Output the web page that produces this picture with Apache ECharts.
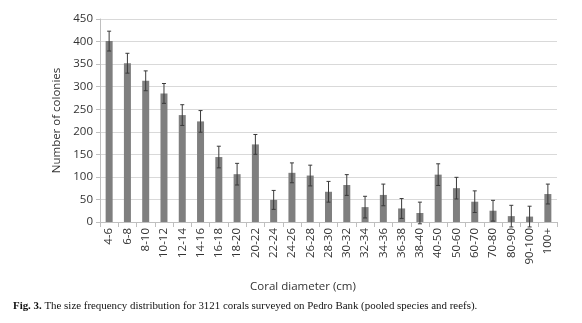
<!DOCTYPE html>
<html>
<head>
<meta charset="utf-8">
<style>
  html, body { margin: 0; padding: 0; background: #fff; }
  #chart { width: 582px; height: 323px; }
</style>
<script src="https://cdn.jsdelivr.net/npm/echarts@6/dist/echarts.min.js"></script>
</head>
<body>
<div id="chart"></div>
<script>
// size classes (cm)
var categories = ['4-6', '6-8', '8-10', '10-12', '12-14', '14-16', '16-18', '18-20', '20-22', '22-24',
    '24-26', '26-28', '28-30', '30-32', '32-34', '34-36', '36-38', '38-40', '40-50', '50-60',
    '60-70', '70-80', '80-90', '90-100', '100+']
// number of colonies
var counts = [401, 352, 313, 285, 237, 223, 144, 106, 172, 49,
    109, 103, 67, 82, 33, 60, 30, 20, 105, 75,
    45, 25, 13, 12, 62]
// error bar half-widths
var errors = [22, 22, 22, 22, 23, 24, 24, 24, 22, 21,
    22, 23, 23, 23, 24, 24, 22, 24, 24, 24,
    24, 23, 24, 23, 22]
var yTicks = [0, 50, 100, 150, 200, 250, 300, 350, 400, 450]

var errData = counts.map(function (v, i) {
    return [i, v - errors[i], v + errors[i]]
})

var chart = echarts.init(document.getElementById('chart'))

var option = {
    backgroundColor: '#fff',
    animation: false,
    title: [
        {
            text: 'Coral diameter (cm)',
            left: 298,
            top: 276,
            textAlign: 'center',
            textStyle: { fontFamily: 'Open Sans', fontSize: 11.5, fontWeight: 'normal', color: '#333' }
        },
        {
            text: '{b|Fig. 3.} The size frequency distribution for 3121 corals surveyed on Pedro Bank (pooled species and reefs).',
            left: 8,
            top: 296,
            textStyle: {
                fontFamily: 'Liberation Serif',
                fontSize: 10.9,
                fontWeight: 'normal',
                color: '#111',
                rich: {
                    b: { fontFamily: 'Liberation Serif', fontSize: 10.9, fontWeight: 'bold', color: '#111' }
                }
            }
        }
    ],
    grid: {
        left: 100,
        right: 25,
        top: 19,
        bottom: 101
    },
    xAxis: {
        type: 'category',
        data: categories,
        axisLine: { show: true, lineStyle: { color: '#bfbfbf' } },
        axisTick: { show: true, length: 5, lineStyle: { color: '#bfbfbf' } },
        axisLabel: {
            rotate: 90,
            interval: 0,
            margin: 6,
            fontFamily: 'Open Sans',
            fontSize: 11.5,
            color: '#333'
        }
    },
    yAxis: {
        type: 'value',
        min: 0,
        max: 450,
        interval: 50,
        name: 'Number of colonies',
        nameLocation: 'middle',
        nameGap: 37,
        nameTextStyle: { fontFamily: 'Open Sans', fontSize: 11.5, color: '#333' },
        axisLine: { show: true, lineStyle: { color: '#bfbfbf' } },
        axisTick: { show: true, length: 4, lineStyle: { color: '#bfbfbf' } },
        axisLabel: {
            margin: 7,
            fontFamily: 'Open Sans',
            fontSize: 11.5,
            color: '#333',
            formatter: function (v) { return yTicks.indexOf(v) >= 0 ? String(v) : '' }
        },
        splitLine: { show: true, lineStyle: { color: '#d9d9d9' } }
    },
    series: [
        {
            type: 'bar',
            data: counts,
            barWidth: 7,
            itemStyle: { color: '#7f7f7f' }
        },
        {
            type: 'custom',
            data: errData,
            z: 10,
            renderItem: function (params, api) {
                var x = api.value(0)
                var lo = api.coord([x, api.value(1)])
                var hi = api.coord([x, api.value(2)])
                var cap = 2
                var style = { stroke: '#3a3a3a', lineWidth: 1 }
                return {
                    type: 'group',
                    children: [
                        { type: 'line', shape: { x1: hi[0], y1: hi[1], x2: lo[0], y2: lo[1] }, style: style },
                        { type: 'line', shape: { x1: hi[0] - cap, y1: hi[1], x2: hi[0] + cap, y2: hi[1] }, style: style },
                        { type: 'line', shape: { x1: lo[0] - cap, y1: lo[1], x2: lo[0] + cap, y2: lo[1] }, style: style }
                    ]
                }
            }
        }
    ]
}

chart.setOption(option)
</script>
</body>
</html>
